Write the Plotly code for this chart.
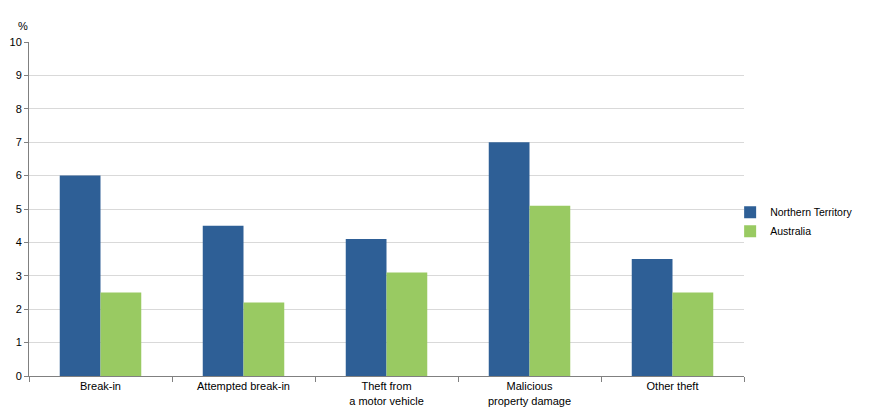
import plotly.graph_objects as go

categories = ["Break-in", "Attempted break-in", "Theft from<br>a motor vehicle",
              "Malicious<br>property damage", "Other theft"]
nt_values = [6.0, 4.5, 4.1, 7.0, 3.5]
au_values = [2.5, 2.2, 3.1, 5.1, 2.5]
y_ticks = list(range(0, 11))

fig = go.Figure()
fig.add_trace(go.Bar(x=categories, y=nt_values, name="Northern Territory",
                     marker=dict(color="#2E5F96", line=dict(width=0))))
fig.add_trace(go.Bar(x=categories, y=au_values, name="Australia",
                     marker=dict(color="#99CA62", line=dict(width=0))))

fig.update_layout(
    width=869, height=416,
    margin=dict(l=21, r=133, t=34, b=48, autoexpand=False),
    paper_bgcolor="white", plot_bgcolor="white",
    font=dict(family="Liberation Sans, Arial, sans-serif", size=11, color="#000000"),
    barmode="group", bargap=0.43, bargroupgap=0,
    showlegend=True,
    legend=dict(xref="container", yref="container", x=0.831, y=0.486,
                xanchor="left", yanchor="middle",
                font=dict(size=10.5), itemwidth=30, tracegroupgap=2,
                bgcolor="rgba(0,0,0,0)"),
    xaxis=dict(showline=True, linecolor="#808080", linewidth=1, automargin=False,
               ticks="outside", tickson="boundaries", ticklen=5, tickcolor="#808080",
               showgrid=False, tickfont=dict(size=11)),
    yaxis=dict(range=[0, 10], tickvals=y_ticks, showline=True, linecolor="#808080",
               linewidth=1, ticks="outside", ticklen=4, tickcolor="#808080",
               automargin=False,
               showgrid=True, gridcolor="#D9D9D9", gridwidth=1,
               zeroline=False, tickfont=dict(size=11)),
    annotations=[dict(text="%", x=0, y=1, xref="paper", yref="paper",
                      xanchor="right", yanchor="bottom", xshift=1, yshift=8,
                      showarrow=False, font=dict(size=11))],
)

fig.write_html("out.html")
